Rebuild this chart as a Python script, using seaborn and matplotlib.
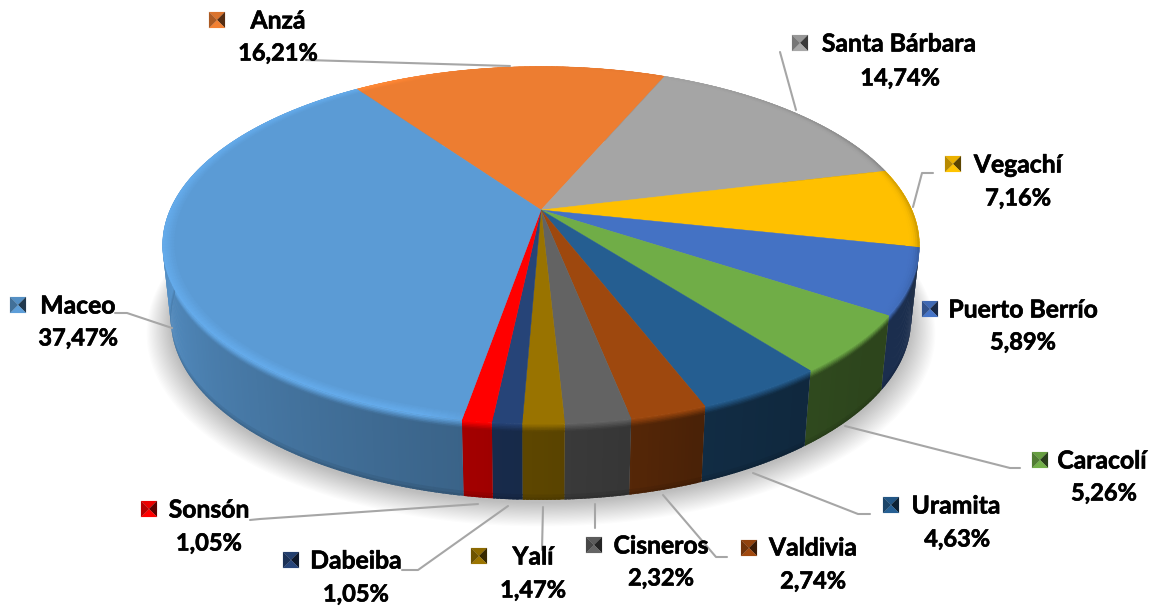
import numpy as np
import matplotlib
matplotlib.use("Agg")
import matplotlib.pyplot as plt
import matplotlib.patheffects as pe
from matplotlib.collections import PolyCollection
import seaborn as sns

# ---- data ----
names = ["Anzá", "Santa Bárbara", "Vegachí", "Puerto Berrío", "Caracolí", "Uramita",
         "Valdivia", "Cisneros", "Yalí", "Dabeiba", "Sonsón", "Maceo"]
shares = [16.21, 14.74, 7.16, 5.89, 5.26, 4.63, 2.74, 2.32, 1.47, 1.05, 1.05, 37.47]
pct_labels = ["16,21%", "14,74%", "7,16%", "5,89%", "5,26%", "4,63%",
              "2,74%", "2,32%", "1,47%", "1,05%", "1,05%", "37,47%"]
hex_colors = ["#ED7D31", "#A5A5A5", "#FFC000", "#4472C4", "#70AD47", "#255E91",
              "#9E480E", "#636363", "#997300", "#264478", "#FF0000", "#5B9BD5"]

# ---- label layout (pixels) ----
key_xy = [(217, 20), (800, 43), (953, 164), (930, 309), (1040, 460), (891, 505),
          (749, 548), (594, 545), (479, 556), (291, 560), (149, 509), (18, 305)]
name_xy = [(278, 21), (899, 44), (1018, 165), (1023, 310), (1102, 461), (956, 506),
           (813, 548), (661, 546), (533, 557), (356, 561), (209, 510), (78, 306)]
pct_xy = [(278, 53), (900, 78), (1018, 198), (1023, 342), (1104, 493), (957, 539),
          (813, 581), (661, 578), (533, 590), (356, 594), (209, 543), (78, 338)]
leaders = [[(306, 60), (510, 66)],
           [(780, 52), (796, 110)],
           [(933, 173), (922, 173), (913, 207)],
           None,
           [(1020, 468), (1010, 468), (845, 426)],
           [(870, 514), (858, 514), (753, 473)],
           [(727, 557), (716, 557), (663, 495)],
           [(595, 504), (595, 528)],
           [(543, 507), (542, 550)],
           [(402, 570), (418, 570), (508, 506)],
           [(250, 520), (260, 519), (478, 504)],
           [(115, 313), (127, 313), (172, 328)]]

# ---- projection of the tilted disc ----
CX, CY, R, A, K = 541.0, 210.0, 371.0, 171.8, -0.197
R_B, A_B, DZ = 0.978, 1.011, 73.6
START = -35.2


def project(theta, r=1.0, t=0.0):
    """theta clockwise from back (deg), r radial, t depth 0 (top) .. 1 (bottom)."""
    th = np.radians(theta)
    u, v = r * np.sin(th), -r * np.cos(th)
    w = 1 + K * v
    x = CX + R * (1 + (R_B - 1) * t) * u / w
    y = CY + A * (1 + (A_B - 1) * t) * v / w + DZ * t
    return x, y


def wall_shade(theta):
    th = np.mod(theta, 360)
    return np.interp(th, [0, 110, 130, 145, 160, 170, 180, 190, 230, 270, 360],
                     [.4, .4, .4, .43, .47, .55, .6, .64, .8, .98, .98])


def rim_shade(theta):
    th = np.mod(theta, 360)
    return np.interp(th, [0, 30, 60, 100, 125, 185, 195, 330, 345, 360],
                     [1, .95, .78, .72, 1, 1, 1.12, 1.12, 1, 1])


sns.set_theme(style="white")
plt.rcParams["font.family"] = ["Lato", "DejaVu Sans"]
palette = [np.array(c) for c in sns.color_palette(hex_colors)]

fig = plt.figure(figsize=(11.63, 6.09), dpi=100, facecolor="white")
ax = fig.add_axes([0, 0, 1, 1])
ax.set_xlim(0, 1163)
ax.set_ylim(609, 0)
ax.axis("off")

# soft shadow
full = np.linspace(0, 360, 361)
for i in range(22):
    sx, sy = project(full, 1 + 0.0030 * i, 1.0)
    ax.fill(sx, sy + 3 + 0.3 * i, color="#000000", alpha=0.011, lw=0, zorder=1)

edges = START + 3.6 * np.cumsum([0] + shares) * 100 / sum(shares)


def fill_quads(polys, cols, z):
    ax.add_collection(PolyCollection(polys, facecolors=cols, edgecolors="none",
                                     linewidths=0, zorder=z))


# walls
t_rows = np.array([0, .02, .04, .06, .08, .10, .93, .97, 1.0])
for i, col in enumerate(palette):
    th = np.arange(edges[i], edges[i + 1], 0.5)
    th = np.append(th, edges[i + 1])
    polys, cols = [], []
    for a, b in zip(th[:-1], th[1:]):
        m = (a + b) / 2
        b2 = min(b + 0.4, edges[i + 1])     # slight overlap hides seams
        for t0, t1 in zip(t_rows[:-1], t_rows[1:]):
            t2 = min(t1 + 0.012, 1.0)
            x0, y0 = project(a, 1, t0)
            x1, y1 = project(b2, 1, t0)
            x2, y2 = project(b2, 1, t2)
            x3, y3 = project(a, 1, t2)
            polys.append([(x0, y0), (x1, y1), (x2, y2), (x3, y3)])
            tm = (t0 + t1) / 2
            s = wall_shade(m)
            mix = np.clip(tm / .10, 0, 1)
            c = col * rim_shade(m) * (1 - mix) + col * s * mix
            if tm > .93:
                c = c * (.93 if tm < .97 else .86)
            cols.append(np.clip(c, 0, 1))
    fill_quads(polys, cols, 2)

# top face with a bevelled rim
for i, col in enumerate(palette):
    th = np.linspace(edges[i], edges[i + 1], 120)
    x, y = project(th, 1.0, 0)
    ax.fill(np.r_[CX, x], np.r_[CY, y], color=col, lw=0.3, zorder=3)
    rings = np.linspace(.965, 1.0, 8)
    tb = np.arange(edges[i], edges[i + 1], 1.0)
    tb = np.append(tb, edges[i + 1])
    polys, cols = [], []
    for a, b in zip(tb[:-1], tb[1:]):
        m = (a + b) / 2
        b2 = min(b + 0.5, edges[i + 1])
        for r0, r1 in zip(rings[:-1], rings[1:]):
            r2 = min(r1 + 0.002, 1.0)
            p = [project(a, r0), project(b2, r0), project(b2, r2), project(a, r2)]
            f = (r0 - .965) / .035
            polys.append(p)
            rs = rim_shade(m)
            if rs < 1:           # the darker far rim is only a thin line
                f = f ** 3
            cols.append(np.clip(col * (1 + (rs - 1) * f), 0, 1))
    fill_quads(polys, cols, 3.5)

# leader lines
for pts in leaders:
    if pts is None:
        continue
    xs, ys = zip(*pts)
    sns.lineplot(x=list(xs), y=list(ys), ax=ax, color="#A6A6A6", lw=1.5, sort=False,
                 estimator=None, legend=False, zorder=4)
ax.set_xlim(0, 1163)
ax.set_ylim(609, 0)
ax.axis("off")

# bevelled legend keys and labels
H = 8
stroke = [pe.withStroke(linewidth=0.45, foreground="black")]
for i, col in enumerate(palette):
    kx, ky = key_xy[i]
    tl, tr, br, bl = (kx - H, ky - H), (kx + H, ky - H), (kx + H, ky + H), (kx - H, ky + H)
    mid = (kx, ky)
    faces = [[tl, tr, mid], [tr, br, mid], [br, bl, mid], [bl, tl, mid]]
    shade = [col * .92, col * .36, np.clip(col * 1.02, 0, 1), col * .72]
    ax.add_collection(PolyCollection(faces, facecolors=shade, edgecolors=shade,
                                     linewidths=0.1, zorder=5))
    ax.text(*name_xy[i], names[i], ha="center", va="center", fontsize=17.8,
            fontweight="bold", color="black", zorder=6, path_effects=stroke)
    ax.text(*pct_xy[i], pct_labels[i], ha="center", va="center", fontsize=17.0,
            fontweight="bold", color="black", zorder=6, path_effects=stroke)

fig.savefig("out.png", dpi=100, facecolor="white")
